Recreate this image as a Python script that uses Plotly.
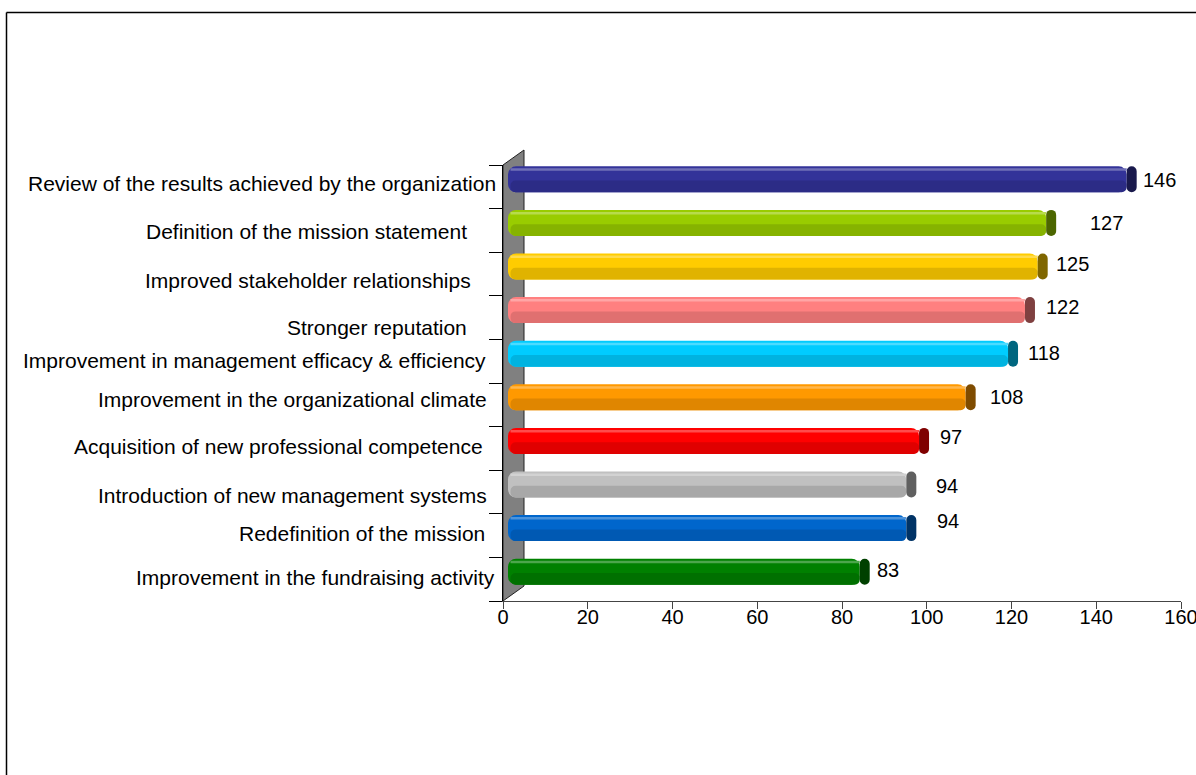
import plotly.graph_objects as go

# ---- data -------------------------------------------------------------
categories = [
    "Review of the results achieved by the organization",
    "Definition of the mission statement",
    "Improved stakeholder relationships",
    "Stronger reputation",
    "Improvement in management efficacy & efficiency",
    "Improvement in the organizational climate",
    "Acquisition of new professional competence",
    "Introduction of new management systems",
    "Redefinition of the mission",
    "Improvement in the fundraising activity",
]
counts = [146, 127, 125, 122, 118, 108, 97, 94, 94, 83]
x_ticks = [0, 20, 40, 60, 80, 100, 120, 140, 160]

# ---- styling ----------------------------------------------------------
bar_colors = ["#333399", "#99CC00", "#FFCC00", "#FF8080", "#00CCFF",
              "#FF9900", "#FF0000", "#C0C0C0", "#0066CC", "#008000"]

# fine nudges (pixels) for the hand-placed category and value labels
label_right_px = [496, 467, 471, 467, 486, 487, 483, 487, 485, 495]
label_dy_px = [-3, 1, 6, 10, -1, -5, -2, 3, -2, -2]
value_gap_px = [6, 34, 8, 11, 10, 14, 11, 20, 21, 7]
value_dy_px = [-7, -7.6, -10.2, -10.8, -8.4, -8, -11.6, -6.2, -14.8, -9.4]

FONT = "Arial, 'Liberation Sans', sans-serif"
W, H = 1196, 775
L, R, T, B = 503, 15, 165, 174
plot_w, plot_h = W - L - R, H - T - B
x_max = x_ticks[-1]
n = len(categories)
ux = plot_w / x_max          # pixels per value unit
uy = plot_h / n              # pixels per category slot

depth_x_px, depth_y_px = 21, 15
shift_x = 5 / ux
shift_y = depth_y_px / 2 / uy
thick = 26 / uy
cap_w = 10 / ux
inset = 2.5 / ux


def shade(hex_color, k):
    h = hex_color.lstrip("#")
    r, g, b = (int(h[i:i + 2], 16) for i in (0, 2, 4))
    if k <= 1:
        r, g, b = (int(c * k) for c in (r, g, b))
    else:
        t = k - 1
        r, g, b = (int(c + (255 - c) * t) for c in (r, g, b))
    return f"rgb({r},{g},{b})"


def px_x(px):
    return (px - L) / plot_w


def px_y(py):
    return (H - B - py) / plot_h


idx = list(range(n))
top_off = -shift_y - thick / 2
end_pos = [v + shift_x for v in counts]

fig = go.Figure()

# cylinder body, drawn from the far end back toward the wall
fig.add_trace(go.Bar(
    orientation="h", y=idx, x=[-v for v in counts], base=end_pos,
    offset=top_off, width=thick,
    marker=dict(color=bar_colors, cornerradius=8, line_width=0),
    hoverinfo="skip", showlegend=False,
))
# darker lower half
fig.add_trace(go.Bar(
    orientation="h", y=idx, x=[-(v - inset) for v in counts], base=end_pos,
    offset=top_off + thick * 0.55, width=thick * 0.45,
    marker=dict(color=[shade(c, 0.88) for c in bar_colors], cornerradius=5,
                line_width=0),
    hoverinfo="skip", showlegend=False,
))
# light sheen near the top edge
fig.add_trace(go.Bar(
    orientation="h", y=idx, x=[-(v - inset) for v in counts], base=end_pos,
    offset=top_off + 2 / uy, width=2.5 / uy,
    marker=dict(color=[shade(c, 1.3) for c in bar_colors], line_width=0),
    hoverinfo="skip", showlegend=False,
))
# end caps
fig.add_trace(go.Bar(
    orientation="h", y=idx, x=[cap_w] * n, base=end_pos,
    offset=top_off, width=thick,
    marker=dict(color=[shade(c, 0.5) for c in bar_colors], cornerradius=5,
                line_width=0),
    hoverinfo="skip", showlegend=False,
))

annotations = []
for i, (name, v) in enumerate(zip(categories, counts)):
    annotations.append(dict(
        text=name, xref="paper", x=0, xanchor="right",
        xshift=label_right_px[i] - L + 2,
        yref="y", y=i, yanchor="middle", yshift=-label_dy_px[i],
        showarrow=False, font=dict(family=FONT, size=21, color="black"),
    ))
    annotations.append(dict(
        text=str(v), xref="x", x=v + shift_x + cap_w, xanchor="left",
        xshift=value_gap_px[i] - 2,
        yref="y", y=i, yanchor="middle", yshift=-value_dy_px[i],
        showarrow=False, font=dict(family=FONT, size=20, color="black"),
    ))

# grey side wall behind the category axis
wall_path = (
    f"M {px_x(L)},{px_y(H - B)} L {px_x(L)},{px_y(T)} "
    f"L {px_x(L + depth_x_px)},{px_y(T - depth_y_px)} "
    f"L {px_x(L + depth_x_px)},{px_y(H - B - depth_y_px)} Z"
)
shapes = [
    dict(type="path", path=wall_path, xref="paper", yref="paper",
         fillcolor="#808080", line=dict(color="#222222", width=1), layer="below"),
    # outer frame
    dict(type="line", xref="paper", yref="paper",
         x0=px_x(6.5), y0=px_y(12.5), x1=px_x(6.5), y1=px_y(H + 20),
         line=dict(color="black", width=1.5)),
    dict(type="line", xref="paper", yref="paper",
         x0=px_x(6.5), y0=px_y(12.5), x1=px_x(W + 20), y1=px_y(12.5),
         line=dict(color="black", width=1.5)),
]

fig.update_layout(
    width=W, height=H,
    margin=dict(l=L, r=R, t=T, b=B, pad=0, autoexpand=False),
    paper_bgcolor="white", plot_bgcolor="white",
    barmode="overlay",
    showlegend=False,
    annotations=annotations,
    shapes=shapes,
    font=dict(family=FONT, size=20, color="black"),
    xaxis=dict(
        range=[0, x_max], tickvals=x_ticks, ticks="outside", ticklen=7,
        tickcolor="#444444", showline=True, linecolor="#444444", linewidth=1,
        showgrid=False, zeroline=False, fixedrange=True, automargin=False,
        ticklabeloverflow="allow", ticklabelstandoff=-9,
        tickfont=dict(family=FONT, size=20, color="black"),
    ),
    yaxis=dict(
        range=[n - 0.5, -0.5], tickvals=[i - 0.5 for i in range(n + 1)],
        ticks="outside", ticklen=13, tickcolor="black", showticklabels=False,
        showline=True, linecolor="black", linewidth=1,
        showgrid=False, zeroline=False, fixedrange=True, automargin=False,
    ),
)

fig.write_html("out.html", config={"displayModeBar": False})
